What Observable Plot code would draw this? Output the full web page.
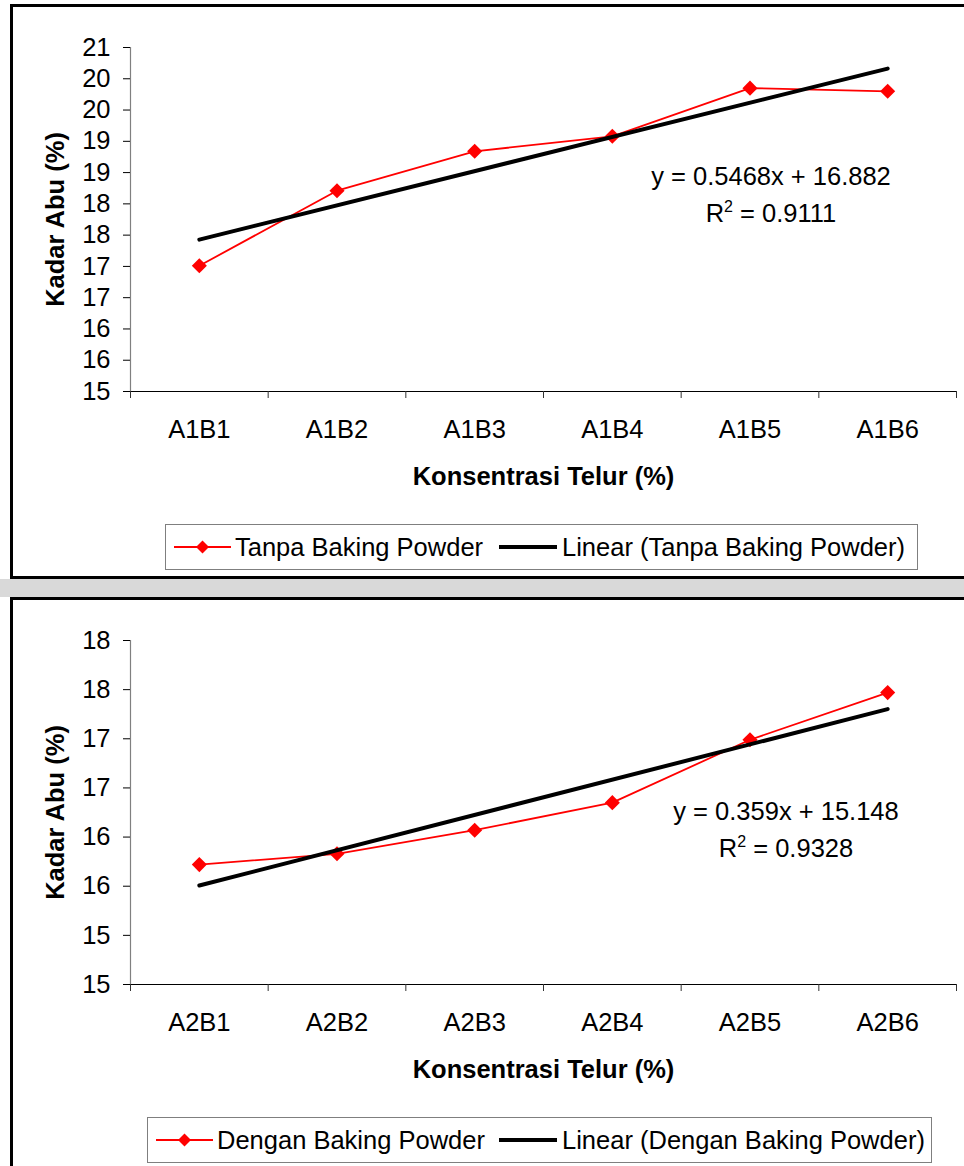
<!DOCTYPE html>
<html>
<head>
<meta charset="utf-8">
<script src="https://cdn.jsdelivr.net/npm/d3@7"></script>
<script src="https://cdn.jsdelivr.net/npm/@observablehq/plot@0.6"></script>
<style>
  html, body { margin: 0; padding: 0; }
  body { width: 964px; height: 1166px; overflow: hidden; position: relative; background: #fff;
         font-family: Arial, "Liberation Sans", sans-serif; color: #000; }
  .band { position: absolute; left: 0; top: 579px; width: 964px; height: 18px; background: #d9d9d9; }
  .frame { position: absolute; left: 10px; width: 1000px; box-sizing: border-box; border: 3px solid #000; background: #fff; }
  .chart { position: absolute; left: 0; }
  .eq { position: absolute; width: 400px; text-align: center; font-size: 25.5px; line-height: 37px; white-space: nowrap; }
  .eq .sup { font-size: 16px; position: relative; top: -10px; }
  .legend { position: absolute; box-sizing: border-box; border: 1px solid #7f7f7f; background: #fff; font-size: 25.5px; white-space: nowrap; }
  .legend > * { position: absolute; top: 0; }
  .legend span { line-height: 44px; }
  .legend svg { top: 12px; }
</style>
</head>
<body>
<div class="band"></div>
<div class="frame" style="top:4px;height:575px;"></div>
<div class="frame" style="top:597px;height:700px;"></div>
<div id="top" class="chart" style="top:0px;"></div>
<div id="bottom" class="chart" style="top:597px;"></div>

<div class="eq" style="left:571px;top:158px;">y = 0.5468x + 16.882<br>R<span class="sup">2</span> = 0.9111</div>
<div class="eq" style="left:586px;top:793px;">y = 0.359x + 15.148<br>R<span class="sup">2</span> = 0.9328</div>

<div class="legend" style="left:165px;top:524px;width:753px;height:46px;">
  <svg style="left:8px" width="57" height="20"><line x1="0" y1="10" x2="57" y2="10" stroke="#ff0000" stroke-width="2"/><polygon points="28.5,3.5 35,10 28.5,16.5 22,10" fill="#ff0000"/></svg>
  <span style="left:69px">Tanpa Baking Powder</span>
  <svg style="left:333px" width="58" height="20"><line x1="0" y1="10" x2="58" y2="10" stroke="#000" stroke-width="4"/></svg>
  <span style="left:396px">Linear (Tanpa Baking Powder)</span>
</div>
<div class="legend" style="left:147px;top:1117px;width:785px;height:46px;">
  <svg style="left:8px" width="57" height="20"><line x1="0" y1="10" x2="57" y2="10" stroke="#ff0000" stroke-width="2"/><polygon points="28.5,3.5 35,10 28.5,16.5 22,10" fill="#ff0000"/></svg>
  <span style="left:69px">Dengan Baking Powder</span>
  <svg style="left:351px" width="58" height="20"><line x1="0" y1="10" x2="58" y2="10" stroke="#000" stroke-width="4"/></svg>
  <span style="left:414px">Linear (Dengan Baking Powder)</span>
</div>

<script>
// ---- Data: top panel (Tanpa Baking Powder) ----
const categoriesTop = ["A1B1", "A1B2", "A1B3", "A1B4", "A1B5", "A1B6"];
const valuesTop = [17.01, 18.21, 18.84, 19.08, 19.85, 19.80];
const slopeTop = 0.5468;
const interceptTop = 16.882;
const yTicksTop = [15, 15.5, 16, 16.5, 17, 17.5, 18, 18.5, 19, 19.5, 20, 20.5];
const yTickLabelsTop = ["15", "16", "16", "17", "17", "18", "18", "19", "19", "20", "20", "21"];

// ---- Data: bottom panel (Dengan Baking Powder) ----
const categoriesBottom = ["A2B1", "A2B2", "A2B3", "A2B4", "A2B5", "A2B6"];
const valuesBottom = [15.72, 15.83, 16.07, 16.35, 16.99, 17.47];
const slopeBottom = 0.359;
const interceptBottom = 15.148;
const yTicksBottom = [14.5, 15, 15.5, 16, 16.5, 17, 17.5, 18];
const yTickLabelsBottom = ["15", "15", "16", "16", "17", "17", "18", "18"];

const yTitle = "Kadar Abu (%)";
const xTitle = "Konsentrasi Telur (%)";

function makeChart({cats, vals, slope, intercept, yTicks, yLabels, height, mt, mb}) {
  const n = cats.length;
  const pts = cats.map((c, i) => ({x: i + 1, y: vals[i], c}));
  const trend = [1, n].map(x => ({x, y: slope * x + intercept}));
  const bounds = d3.range(n + 1).map(i => i + 0.5);
  const centers = d3.range(n).map(i => i + 1);
  const yMin = yTicks[0], yMax = yTicks[yTicks.length - 1];
  return Plot.plot({
    width: 964,
    height,
    marginLeft: 130,
    marginRight: 8,
    marginTop: mt,
    marginBottom: mb,
    style: {fontFamily: 'Arial, "Liberation Sans", sans-serif', fontSize: "25.5px", color: "#000", background: "transparent", overflow: "visible"},
    x: {type: "linear", domain: [0.5, n + 0.5]},
    y: {domain: [yMin, yMax]},
    marks: [
      Plot.ruleX([0.5], {stroke: "#808080", strokeWidth: 1.2}),
      Plot.ruleY([yMin], {stroke: "#000", strokeWidth: 1.2}),
      Plot.axisY({ticks: yTicks, tickFormat: d => yLabels[yTicks.indexOf(d)], tickSize: 7, tickPadding: 13, label: null, stroke: "#000"}),
      Plot.axisX({ticks: bounds, tickSize: 7, tickFormat: () => "", label: null, stroke: "#333"}),
      Plot.axisX({ticks: centers, tickSize: 0, tickPadding: 28, tickFormat: d => cats[Math.round(d) - 1], label: null}),
      Plot.line(pts, {x: "x", y: "y", stroke: "#ff0000", strokeWidth: 1.8}),
      Plot.dot(pts, {x: "x", y: "y", symbol: "diamond2", r: 6.8, fill: "#ff0000", stroke: "none"}),
      Plot.line(trend, {x: "x", y: "y", stroke: "#000", strokeWidth: 4}),
      Plot.text([yTitle], {frameAnchor: "left", dx: -75, rotate: -90, fontWeight: "bold", textAnchor: "middle", lineAnchor: "middle", text: d => d}),
      Plot.text([xTitle], {frameAnchor: "bottom", dy: 85, fontWeight: "bold", textAnchor: "middle", lineAnchor: "middle", text: d => d})
    ]
  });
}

document.getElementById("top").appendChild(makeChart({
  cats: categoriesTop, vals: valuesTop, slope: slopeTop, intercept: interceptTop,
  yTicks: yTicksTop, yLabels: yTickLabelsTop, height: 500, mt: 47, mb: 109
}));
document.getElementById("bottom").appendChild(makeChart({
  cats: categoriesBottom, vals: valuesBottom, slope: slopeBottom, intercept: interceptBottom,
  yTicks: yTicksBottom, yLabels: yTickLabelsBottom, height: 500, mt: 43, mb: 113
}));
</script>
</body>
</html>
